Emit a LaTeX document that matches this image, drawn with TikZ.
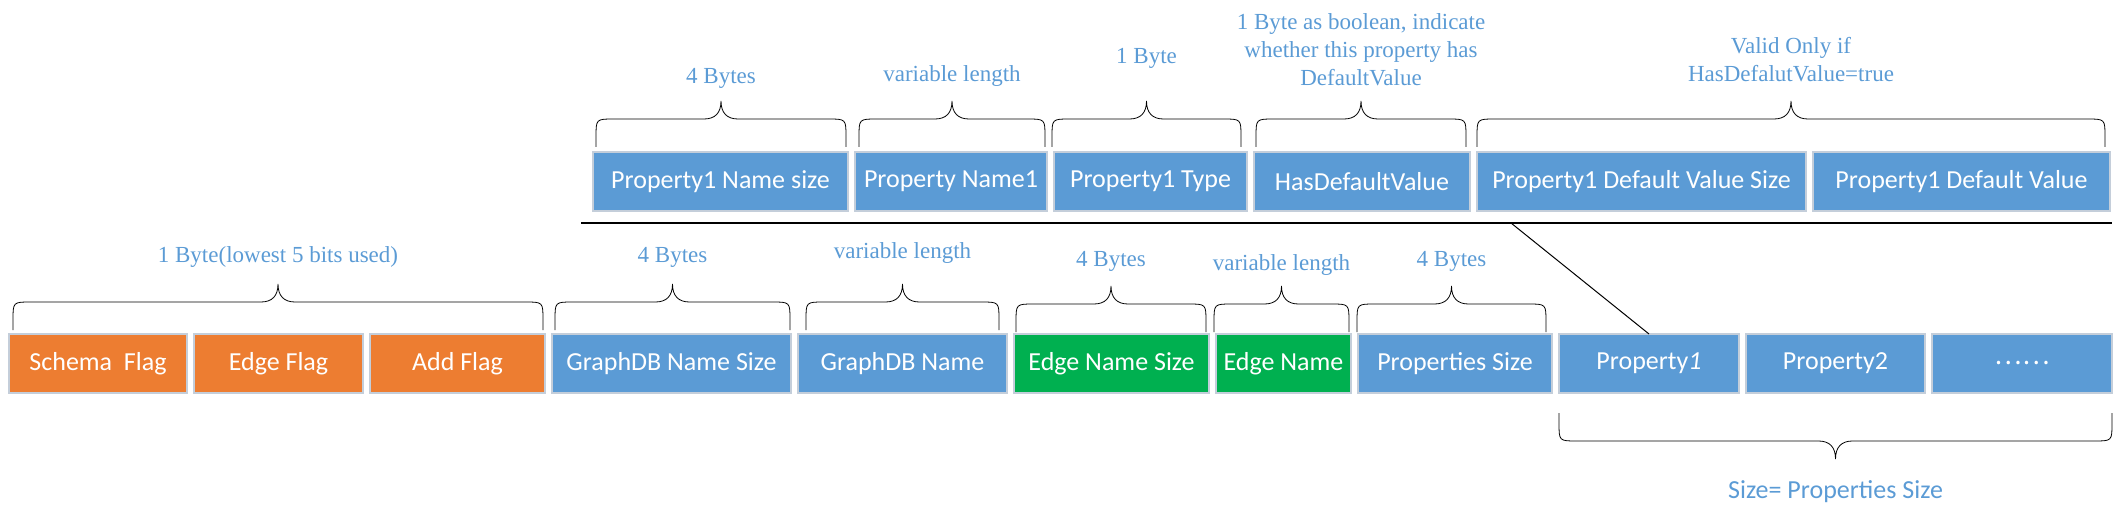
\documentclass[tikz,border=0pt]{standalone}
\usepackage{fontspec}
\setmainfont{Liberation Serif}
\newfontfamily\calibri{Carlito}
\newfontfamily\cjk{Noto Sans CJK SC}
\usetikzlibrary{positioning,calc}

\definecolor{orangeF}{RGB}{237,125,49}
\definecolor{blueF}{RGB}{91,155,213}
\definecolor{greenF}{RGB}{0,176,80}
\definecolor{bordF}{RGB}{196,206,218}

\tikzset{
  box/.style={minimum height=29.5pt, inner sep=0pt, outer sep=0pt, text=white,
    draw=bordF, line width=0.6pt, font=\calibri\fontsize{13}{15}\selectfont},
  orangebox/.style={box, fill=orangeF},
  bluebox/.style={box, fill=blueF},
  greenbox/.style={box, fill=greenF},
  lab/.style={pos=1, text=blueF, inner sep=0pt, align=center,
    font=\fontsize{11.5}{14}\selectfont},
  % accolade : #1 = 1 vers le haut, -1 vers le bas
  accolade/.style={line width=0.8pt, to path={
    let \p1=(\tikztostart), \p2=(\tikztotarget), \p3=($(\p1)!.5!(\p2)$) in
    -- (\x1,{\y1+(#1)*5pt})
    .. controls (\x1,{\y1+(#1)*14pt}) .. ({\x1+9pt},{\y1+(#1)*14pt})
    -- ({\x3-8.5pt},{\y1+(#1)*14pt})
    .. controls ({\x3-3pt},{\y1+(#1)*14pt}) and (\x3,{\y1+(#1)*17pt}) .. (\x3,{\y1+(#1)*23pt}) \tikztonodes
    .. controls (\x3,{\y1+(#1)*17pt}) and ({\x3+3pt},{\y1+(#1)*14pt}) .. ({\x3+8.5pt},{\y1+(#1)*14pt})
    -- ({\x2-9pt},{\y1+(#1)*14pt})
    .. controls (\x2,{\y1+(#1)*14pt}) .. (\x2,{\y1+(#1)*5pt})
    -- (\p2)}}
}

\begin{document}
\begin{tikzpicture}[x=0.5pt, y=-0.5pt, node distance=3.5pt]
\useasboundingbox (0,0) rectangle (2120,519);

% ligne du bas
\node[orangebox, anchor=west, minimum width=89pt] (f1) at (9,363.5) {Schema\ \ Flag};
\node[orangebox, right=of f1, minimum width=84.5pt] (f2) {Edge Flag};
\node[orangebox, right=of f2, minimum width=87.5pt] (f3) {Add Flag};
\node[bluebox, right=of f3, minimum width=119.5pt] (s1) {GraphDB Name Size};
\node[bluebox, right=of s1, minimum width=104.5pt] (s2) {GraphDB Name};
\node[greenbox, right=of s2, minimum width=97.5pt] (e1) {Edge Name Size};
\node[greenbox, right=of e1, minimum width=67.5pt] (e2) {Edge Name};
\node[bluebox, right=of e2, minimum width=97pt] (s3) {Properties Size};
\node[bluebox, right=of s3, minimum width=90pt] (p1) {Property\textit{1}};
\node[bluebox, right=of p1, minimum width=89.5pt] (p2) {Property2};
\node[bluebox, right=of p2, minimum width=90pt] (p3) {{\cjk ……}};

% ligne du haut
\node[bluebox, anchor=west, minimum width=127.5pt] (n1) at (593,181.5) {Property1 Name size};
\node[bluebox, right=of n1, minimum width=96pt] (n2) {Property Name1};
\node[bluebox, right=of n2, minimum width=96.5pt] (n3) {Property1 Type};
\node[bluebox, right=of n3, minimum width=108pt] (n4) {HasDefaultValue};
\node[bluebox, right=of n4, minimum width=164.5pt] (n5) {Property1 Default Value Size};
\node[bluebox, right=of n5, minimum width=148.5pt] (n6) {Property1 Default Value};

\coordinate (l1) at (581,223);
\coordinate (l2) at (2112,223);
\coordinate (cut) at (1511,223);
\draw[line width=0.75pt] (l1) -- (l2);
\draw[line width=0.5pt] (cut) -- (p1.north);

% accolades du haut
\draw ([xshift=1.5pt,yshift=2.5pt]n1.north west) to[accolade=1]
  node[lab, anchor=south, yshift=6pt] {4 Bytes} ([xshift=-1pt,yshift=2.5pt]n1.north east);
\draw ([xshift=2pt,yshift=2.5pt]n2.north west) to[accolade=1]
  node[lab, anchor=south, yshift=7pt] {variable length} ([xshift=-1pt,yshift=2.5pt]n2.north east);
\draw ([xshift=-1pt,yshift=2.5pt]n3.north west) to[accolade=1]
  node[lab, anchor=south, yshift=16pt] {1 Byte} ([xshift=-3pt,yshift=2.5pt]n3.north east);
\draw ([xshift=1pt,yshift=2.5pt]n4.north west) to[accolade=1]
  node[lab, anchor=south, yshift=7pt] {1 Byte as boolean, indicate\\whether this property has\\DefaultValue} ([xshift=-2pt,yshift=2.5pt]n4.north east);
\draw ([xshift=0pt,yshift=2.5pt]n5.north west) to[accolade=1]
  node[lab, anchor=south, yshift=9pt] {Valid Only if\\HasDefalutValue=true} ([xshift=-2.5pt,yshift=2.5pt]n6.north east);

% accolades du bas
\draw ([xshift=2pt,yshift=2pt]f1.north west) to[accolade=1]
  node[lab, anchor=south, yshift=8pt] {1 Byte(lowest 5 bits used)} ([xshift=-1pt,yshift=2pt]f3.north east);
\draw ([xshift=1.5pt,yshift=2pt]s1.north west) to[accolade=1]
  node[lab, anchor=south, yshift=8pt] {4 Bytes} ([xshift=-0.5pt,yshift=2pt]s1.north east);
\draw ([xshift=4pt,yshift=2pt]s2.north west) to[accolade=1]
  node[lab, anchor=south, yshift=10pt] {variable length} ([xshift=-4pt,yshift=2pt]s2.north east);
\draw ([xshift=1pt,yshift=1pt]e1.north west) to[accolade=1]
  node[lab, anchor=south, yshift=7pt] {4 Bytes} ([xshift=-1.5pt,yshift=1pt]e1.north east);
\draw ([xshift=-1pt,yshift=1pt]e2.north west) to[accolade=1]
  node[lab, anchor=south, yshift=5pt] {variable length} ([xshift=-1pt,yshift=1pt]e2.north east);
\draw ([xshift=-0.5pt,yshift=1pt]s3.north west) to[accolade=1]
  node[lab, anchor=south, yshift=7pt] {4 Bytes} ([xshift=-3pt,yshift=1pt]s3.north east);
\draw ([yshift=-10pt]p1.south west) to[accolade=-1]
  node[lab, anchor=north, yshift=-10.5pt, font=\calibri\fontsize{13}{15}\selectfont] {Size= Properties Size} ([yshift=-10pt]p3.south east);
\end{tikzpicture}
\end{document}
